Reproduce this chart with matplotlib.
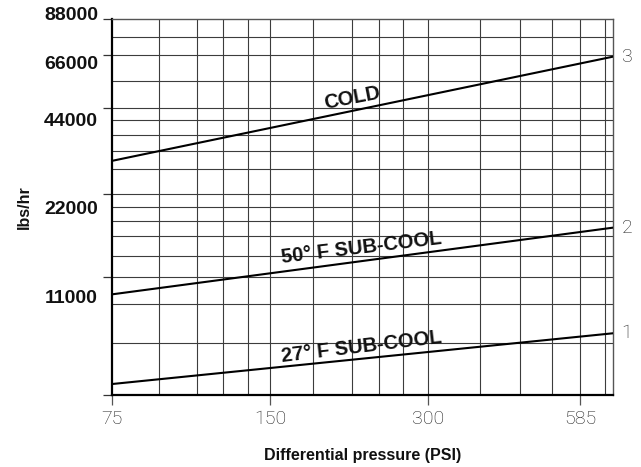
import numpy as np
import matplotlib
matplotlib.use("Agg")
import matplotlib.pyplot as plt

# ---------------- data ----------------
pressure_ends = [75, 675]                 # PSI at left and right edge of the chart
cold = [30400, 65300]                     # lbs/hr
sub50 = [9360, 17500]
sub27 = [1020, 5740]
series_labels = ["COLD", "50° F SUB-COOL", "27° F SUB-COOL"]
curve_numbers = ["3", "2", "1"]

x_ticks = [75, 150, 300, 585]
x_tick_labels = ["75", "150", "300", "585"]
y_ticks = [11000, 22000, 44000, 66000, 88000]
y_tick_labels = ["11000", "22000", "44000", "66000", "88000"]

x_grid = [92, 109, 122, 136, 150, 181, 215, 242, 269, 300, 377, 449, 517, 585, 652]
y_grid = [4810, 8460, 11000, 13700, 16400, 18400, 20300, 22000, 28200, 33000,
          36900, 40850, 44000, 55000, 66000, 77000]

# chart's (non-uniform) vertical scale: value -> fraction of axis height
y_scale_values = [0, 11000, 22000, 44000, 66000, 88000]
y_scale_fracs = [0.0, 0.3146, 0.5354, 0.7641, 0.9043, 1.0]

# ---------------- figure ----------------
fig = plt.figure(figsize=(6.41, 4.67), dpi=100)
ax = fig.add_axes([112 / 641, 72 / 467, 501 / 641, 376 / 467])

def fwd(v):
    return np.interp(np.asarray(v, dtype=float), y_scale_values, y_scale_fracs)

def inv(p):
    return np.interp(np.asarray(p, dtype=float), y_scale_fracs, y_scale_values)

ax.set_xscale("log")
ax.set_yscale("function", functions=(fwd, inv))
ax.set_xlim(pressure_ends[0], pressure_ends[1])
ax.set_ylim(0, 88000)

# grid
grid_color = "#3c3c3c"
ax.vlines(x_grid, 0, 88000, colors=grid_color, linewidth=0.8, zorder=1)
ax.hlines(y_grid, pressure_ends[0], pressure_ends[1], colors=grid_color,
          linewidth=0.8, zorder=1)

# curves
for ys in (cold, sub50, sub27):
    ax.plot(pressure_ends, ys, color="black", linewidth=1.5, zorder=3)

# spines
for s in ("left", "bottom"):
    ax.spines[s].set_color("black")
    ax.spines[s].set_linewidth(1.6)
for s in ("top", "right"):
    ax.spines[s].set_color("#555555")
    ax.spines[s].set_linewidth(1.0)

# x ticks
ax.xaxis.set_minor_locator(matplotlib.ticker.NullLocator())
ax.set_xticks(x_ticks)
ax.set_xticklabels(x_tick_labels, family=["Roboto", "DejaVu Sans"],
                   fontweight="light", fontsize=14, color="#1e1e1e")
ax.tick_params(axis="x", direction="out", length=7.2, width=0.9,
               color="#555555", pad=3.5)

# y ticks: stubs on the axis, labels placed beside them
ax.yaxis.set_minor_locator(matplotlib.ticker.NullLocator())
ax.set_yticks([0] + y_ticks)
ax.tick_params(axis="y", direction="out", length=6.5, width=0.9,
               color="#333333", labelleft=False)
label_dy = [-15.6, -11.2, -10.1, -7.2, 2.6]   # points
for val, lab, dy in zip(y_ticks, y_tick_labels, label_dy):
    ax.annotate(lab, xy=(0, val), xycoords=ax.get_yaxis_transform(),
                xytext=(-10, dy), textcoords="offset points",
                ha="right", va="center", fontsize=14, fontweight="bold",
                family="Liberation Sans", color="#111111", annotation_clip=False)

# axis labels
ax.set_ylabel("lbs/hr", fontsize=11.5, fontweight="bold", family="Liberation Sans",
              color="#111111")
ax.yaxis.set_label_coords(-0.16, 0.5)
ax.set_xlabel("Differential pressure (PSI)", fontsize=11.5, fontweight="bold",
              family="Liberation Sans", color="#111111")
ax.xaxis.set_label_coords(0.5, -0.14)

# curve labels
label_pos = [(0.480, 0.790, 11.0), (0.497, 0.391, 6.8), (0.497, 0.128, 6.8)]
for (lx, ly, rot), txt in zip(label_pos, series_labels):
    ax.text(lx, ly, txt, transform=ax.transAxes, rotation=rot,
            rotation_mode="anchor", ha="center", va="center",
            fontsize=14.5, fontweight="bold", family="Liberation Sans",
            color="#111111", zorder=4)

# curve numbers at right end
for ys, num in zip((cold, sub50, sub27), curve_numbers):
    ax.annotate(num, xy=(pressure_ends[1], ys[1]), xytext=(10, 0),
                textcoords="offset points", ha="center", va="center",
                fontsize=14, family=["Roboto", "DejaVu Sans"], fontweight="light",
                color="#1e1e1e", annotation_clip=False)

fig.savefig("out.png", dpi=100)
